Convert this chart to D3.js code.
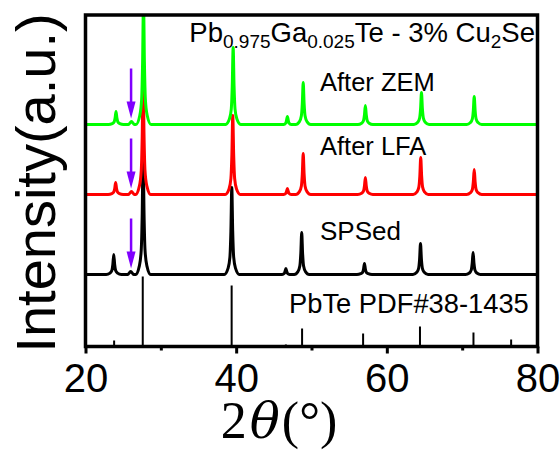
<!DOCTYPE html>
<html>
<head>
<meta charset="utf-8">
<script src="https://cdn.jsdelivr.net/npm/d3@7"></script>
<style>
  html, body { margin: 0; padding: 0; background: #fff; }
  svg { display: block; }
</style>
</head>
<body>
<svg id="chart" width="560" height="450"></svg>
<script>
// XRD patterns of Pb0.975Ga0.025Te - 3% Cu2Se: [2θ (deg), intensity (a.u.)] above each trace's own baseline
const spsed = [
  [20.0, 0],
  [22.75, 0], [23.25, 1.4], [23.50, 4], [23.63, 10], [23.75, 20], [23.87, 10], [24.00, 4], [24.25, 1.4], [24.75, 0],
  [25.60, 0], [26.00, 3], [26.40, 0],
  [26.65, 0], [27.15, 8.6], [27.40, 24.6], [27.53, 61.5], [27.65, 123], [27.77, 61.5], [27.90, 24.6], [28.15, 8.6], [28.65, 0],
  [38.42, 0], [38.92, 6.1], [39.17, 17.4], [39.30, 43.5], [39.42, 87], [39.54, 43.5], [39.67, 17.4], [39.92, 6.1], [40.42, 0],
  [46.10, 0], [46.40, 1.2], [46.48, 3], [46.60, 6], [46.72, 3], [46.80, 1.2], [47.10, 0],
  [47.70, 0], [48.20, 2.9], [48.45, 8.4], [48.58, 21], [48.70, 42], [48.82, 21], [48.95, 8.4], [49.20, 2.9], [49.70, 0],
  [56.03, 0], [56.53, 0.8], [56.78, 2.2], [56.91, 5.5], [57.03, 11], [57.15, 5.5], [57.28, 2.2], [57.53, 0.8], [58.03, 0],
  [63.47, 0], [63.97, 2.2], [64.22, 6.2], [64.35, 15.5], [64.47, 31], [64.59, 15.5], [64.72, 6.2], [64.97, 2.2], [65.47, 0],
  [70.45, 0], [70.95, 1.5], [71.20, 4.4], [71.33, 11], [71.45, 22], [71.57, 11], [71.70, 4.4], [71.95, 1.5], [72.45, 0],
  [80.0, 0]
];

const afterLFA = [
  [20.0, 0],
  [23.00, 0], [23.50, 0.8], [23.75, 2.4], [23.88, 6], [24.00, 12], [24.12, 6], [24.25, 2.4], [24.50, 0.8], [25.00, 0],
  [25.70, 0], [26.10, 3], [26.50, 0],
  [26.65, 0], [27.15, 8.3], [27.40, 23.6], [27.53, 59], [27.65, 118], [27.77, 59], [27.90, 23.6], [28.15, 8.3], [28.65, 0],
  [38.55, 0], [39.05, 5.5], [39.30, 15.8], [39.43, 39.5], [39.55, 79], [39.67, 39.5], [39.80, 15.8], [40.05, 5.5], [40.55, 0],
  [46.30, 0], [46.60, 1.2], [46.68, 3], [46.80, 6], [46.92, 3], [47.00, 1.2], [47.30, 0],
  [47.90, 0], [48.40, 2.9], [48.65, 8.2], [48.78, 20.5], [48.90, 41], [49.02, 20.5], [49.15, 8.2], [49.40, 2.9], [49.90, 0],
  [56.15, 0], [56.65, 1.2], [56.90, 3.4], [57.03, 8.5], [57.15, 17], [57.27, 8.5], [57.40, 3.4], [57.65, 1.2], [58.15, 0],
  [63.50, 0], [64.00, 2.6], [64.25, 7.4], [64.38, 18.5], [64.50, 37], [64.62, 18.5], [64.75, 7.4], [65.00, 2.6], [65.50, 0],
  [70.60, 0], [71.10, 1.8], [71.35, 5], [71.48, 12.5], [71.60, 25], [71.72, 12.5], [71.85, 5], [72.10, 1.8], [72.60, 0],
  [80.0, 0]
];

const afterZEM = [
  [20.0, 0],
  [23.05, 0], [23.55, 0.9], [23.80, 2.6], [23.93, 6.5], [24.05, 13], [24.17, 6.5], [24.30, 2.6], [24.55, 0.9], [25.05, 0],
  [25.70, 0], [26.10, 3], [26.50, 0],
  [26.70, 0], [27.20, 8.8], [27.45, 25], [27.58, 62.5], [27.70, 125], [27.82, 62.5], [27.95, 25], [28.20, 8.8], [28.70, 0],
  [38.60, 0], [39.10, 5.4], [39.35, 15.4], [39.48, 38.5], [39.60, 77], [39.72, 38.5], [39.85, 15.4], [40.10, 5.4], [40.60, 0],
  [46.30, 0], [46.60, 1.6], [46.68, 4], [46.80, 8], [46.92, 4], [47.00, 1.6], [47.30, 0],
  [47.90, 0], [48.40, 2.9], [48.65, 8.4], [48.78, 21], [48.90, 42], [49.02, 21], [49.15, 8.4], [49.40, 2.9], [49.90, 0],
  [56.15, 0], [56.65, 1.3], [56.90, 3.8], [57.03, 9.5], [57.15, 19], [57.27, 9.5], [57.40, 3.8], [57.65, 1.3], [58.15, 0],
  [63.60, 0], [64.10, 2.2], [64.35, 6.4], [64.48, 16], [64.60, 32], [64.72, 16], [64.85, 6.4], [65.10, 2.2], [65.60, 0],
  [70.60, 0], [71.10, 2], [71.35, 5.6], [71.48, 14], [71.60, 28], [71.72, 14], [71.85, 5.6], [72.10, 2], [72.60, 0],
  [80.0, 0]
];

// PbTe reference pattern (PDF#38-1435): positions and stick heights
const pdfTheta = [23.8, 27.6, 39.4, 46.6, 48.75, 56.85, 64.4, 71.5, 76.5];
const pdfHeight = [6, 70, 61, 2, 18, 13, 20, 14, 7];

// vertical offsets of the stacked traces
const seriesNames = ["SPSed", "After LFA", "After ZEM"];
const seriesOffsets = [72, 152, 222];
const seriesColors = ["#000000", "#ff0000", "#00ff00"];

// secondary-phase marker arrows (2θ, top and tip above each baseline)
const arrowTheta = 26.05;
const arrowTop = 56;
const arrowTip = 6;

const xTicks = [20, 40, 60, 80];
const xMinorTicks = [30, 50, 70];

const svg = d3.select("#chart");
const plotLeft = 85.5, plotRight = 537.5, plotTop = 15, plotBottom = 346.5;

const x = d3.scaleLinear().domain([20, 80]).range([plotLeft, plotRight]);
const y = d3.scaleLinear().domain([0, 331.5]).range([plotBottom, plotTop]);

svg.append("defs").append("clipPath").attr("id", "plotClip")
  .append("rect").attr("x", plotLeft).attr("y", plotTop)
  .attr("width", plotRight - plotLeft).attr("height", plotBottom - plotTop);

const plot = svg.append("g").attr("clip-path", "url(#plotClip)");

// reference sticks
plot.append("g").selectAll("line")
  .data(pdfTheta.map((t, i) => [t, pdfHeight[i]]))
  .join("line")
  .attr("x1", d => x(d[0])).attr("x2", d => x(d[0]))
  .attr("y1", y(0)).attr("y2", d => y(d[1]))
  .attr("stroke", "#000").attr("stroke-width", 2);

// measured patterns
const patterns = [spsed, afterLFA, afterZEM];
patterns.forEach((pts, i) => {
  const off = seriesOffsets[i];
  const line = d3.line()
    .x(d => x(d[0]))
    .y(d => y(d[1] + off))
    .curve(d3.curveMonotoneX);
  plot.append("path")
    .datum(pts)
    .attr("d", line)
    .attr("fill", "none")
    .attr("stroke", seriesColors[i])
    .attr("stroke-width", 3)
    .attr("stroke-linejoin", "round");
});

// arrows
const arrowColor = "#8000ff";
seriesOffsets.forEach(off => {
  const ax = x(arrowTheta);
  const y0 = y(off + arrowTop), y1 = y(off + arrowTip);
  const headLen = 17, headW = 4.5;
  svg.append("line")
    .attr("x1", ax).attr("x2", ax)
    .attr("y1", y0).attr("y2", y1 - headLen + 2)
    .attr("stroke", arrowColor).attr("stroke-width", 2.5);
  svg.append("path")
    .attr("d", `M${ax - headW},${y1 - headLen} L${ax + headW},${y1 - headLen} L${ax},${y1} Z`)
    .attr("fill", arrowColor);
});

// trace labels
const labelFont = "'Liberation Sans', Arial, sans-serif";
const labels = [
  { text: "After ZEM", x: 320, y: 91, size: 25.5 },
  { text: "After LFA", x: 320, y: 155, size: 25.5 },
  { text: "SPSed", x: 320, y: 240, size: 26 },
  { text: "PbTe PDF#38-1435", x: 289, y: 313, size: 27.3 }
];
svg.append("g").selectAll("text").data(labels).join("text")
  .attr("x", d => d.x).attr("y", d => d.y)
  .attr("font-family", labelFont).attr("font-size", d => d.size)
  .attr("fill", "#000")
  .text(d => d.text);

// composition title with subscripts
const title = svg.append("text")
  .attr("x", 535).attr("y", 42)
  .attr("text-anchor", "end")
  .attr("font-family", labelFont).attr("font-size", 27.5)
  .attr("fill", "#000");
const titleParts = [
  ["Pb", false], ["0.975", true], ["Ga", false], ["0.025", true],
  ["Te - 3% Cu", false], ["2", true], ["Se", false]
];
let shifted = false;
titleParts.forEach(([t, sub]) => {
  const ts = title.append("tspan").text(t);
  if (sub) { ts.attr("font-size", 19); if (!shifted) ts.attr("dy", 6); shifted = true; }
  else if (shifted) { ts.attr("dy", -6); shifted = false; }
});

// x axis: major ticks with labels, minor ticks
const axisG = svg.append("g").attr("transform", `translate(0,${plotBottom})`);
axisG.call(d3.axisBottom(x).tickValues(xTicks).tickSize(7).tickFormat(d3.format("d")));
const minorG = svg.append("g").attr("transform", `translate(0,${plotBottom})`);
minorG.call(d3.axisBottom(x).tickValues(xMinorTicks).tickSize(4).tickFormat(""));
[axisG, minorG].forEach(g => {
  g.select(".domain").remove();
  g.selectAll(".tick line").attr("stroke", "#000").attr("stroke-width", 3);
});
axisG.selectAll(".tick text")
  .attr("y", 45).attr("dy", 0)
  .attr("font-family", labelFont).attr("font-size", 40)
  .attr("fill", "#000");

// frame
svg.append("rect")
  .attr("x", plotLeft).attr("y", plotTop)
  .attr("width", plotRight - plotLeft).attr("height", plotBottom - plotTop)
  .attr("fill", "none").attr("stroke", "#000").attr("stroke-width", 3.5);

// axis titles
svg.append("text")
  .attr("transform", "translate(55,183) rotate(-90)")
  .attr("text-anchor", "middle")
  .attr("font-family", labelFont).attr("font-size", 56)
  .attr("fill", "#000")
  .text("Intensity(a.u.)");

const xt = svg.append("text")
  .attr("x", 279).attr("y", 438)
  .attr("text-anchor", "middle")
  .attr("font-family", "'Liberation Serif', 'Times New Roman', serif")
  .attr("font-size", 52)
  .attr("fill", "#000");
xt.append("tspan").text("2");
xt.append("tspan").attr("dx", 3)
  .attr("font-family", "'DejaVu Serif', serif")
  .attr("font-style", "italic").attr("font-size", 50).text("θ");
xt.append("tspan").attr("dx", 2).text("(°)");
</script>
</body>
</html>
